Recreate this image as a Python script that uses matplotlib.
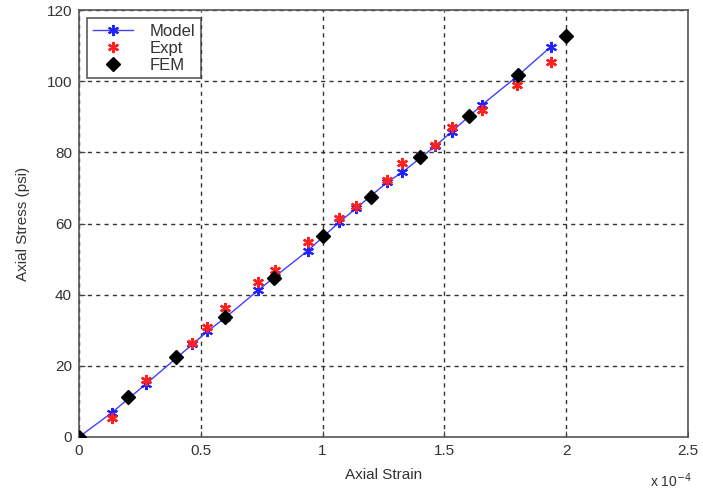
"""
Axial stress vs axial strain: model, experiment and FEM comparison.
"""

import matplotlib
matplotlib.use('Agg')
import matplotlib.pyplot as plt

plt.rcParams['font.family'] = ['Liberation Sans', 'DejaVu Sans']

# Strain values are in units of 1e-4
model_strain = [0, 0.134, 0.273, 0.465, 0.527, 0.598, 0.735, 0.803, 0.94, 1.067,
                1.138, 1.265, 1.327, 1.463, 1.53, 1.655, 1.796, 1.937]
model_stress = [0, 6.8, 14.8, 26.0, 29.7, 33.4, 41.2, 45.0, 52.4, 60.3,
                64.3, 71.6, 74.4, 81.8, 85.8, 93.4, 101.2, 109.7]

expt_strain = [0.134, 0.273, 0.465, 0.527, 0.598, 0.735, 0.803, 0.94, 1.067,
               1.138, 1.265, 1.327, 1.463, 1.53, 1.655, 1.796, 1.937]
expt_stress = [5.3, 16.0, 26.4, 31.0, 36.2, 43.7, 47.0, 54.7, 61.5,
               65.0, 72.3, 77.0, 82.2, 87.0, 92.0, 98.8, 105.3]

fem_strain = [0, 0.2, 0.4, 0.6, 0.8, 1.0, 1.2, 1.4, 1.6, 1.8, 2.0]
fem_stress = [0, 11.2, 22.4, 33.8, 44.8, 56.4, 67.4, 78.7, 90.2, 101.6, 112.8]

x_ticks = [0, 0.5, 1, 1.5, 2, 2.5]
x_tick_labels = ['0', '0.5', '1', '1.5', '2', '2.5']
y_ticks = [0, 20, 40, 60, 80, 100, 120]

fig = plt.figure(figsize=(7.03, 4.93), dpi=100)
ax = fig.add_axes([0.1124, 0.1136, 0.8663, 0.8661])

asterisk = (6, 2, 0)
ax.plot(model_strain, model_stress, color='#4040ff', lw=1.0, marker=asterisk,
        ms=8, mew=1.5, mec='#2222ff', label='Model', zorder=3)
ax.plot(expt_strain, expt_stress, ls='none', marker=asterisk, ms=8, mew=1.7,
        color='#ff2020', label='Expt', zorder=4)
ax.plot(fem_strain, fem_stress, ls='none', marker='D', ms=7, color='black',
        label='FEM', zorder=5)

ax.set_xlim(0, 2.5)
ax.set_ylim(0, 120)
ax.set_xticks(x_ticks)
ax.set_xticklabels(x_tick_labels)
ax.set_yticks(y_ticks)

ax.grid(True, color='#333333', linestyle=(0, (3, 3)), linewidth=1.0)
ax.tick_params(direction='in', length=4, colors='#444444', labelsize=11,
               labelcolor='#333333', pad=5)
for s in ax.spines.values():
    s.set_color('#555555')
    s.set_linewidth(1.2)

ax.set_xlabel('Axial Strain', fontsize=11, color='#333333', labelpad=7)
ax.set_ylabel('Axial Stress (psi)', fontsize=11, color='#333333', labelpad=12)
fig.text(0.925, 0.012, r'x 10$^{-4}$', fontsize=10, color='#333333')

leg = ax.legend(loc='upper left', fontsize=12, frameon=True, fancybox=False,
                edgecolor='#333333', borderpad=0.35, handlelength=2.4,
                handletextpad=1.0, labelspacing=0.1,
                bbox_to_anchor=(0.0, 1.0))
leg.get_frame().set_linewidth(1.2)
for t in leg.get_texts():
    t.set_color('#333333')

fig.savefig('out.png', dpi=100)
